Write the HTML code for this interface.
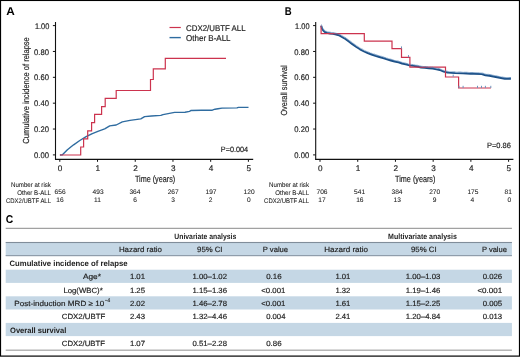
<!DOCTYPE html>
<html><head><meta charset="utf-8"><style>
html,body{margin:0;padding:0;background:#fff;}
svg{display:block;will-change:transform;text-rendering:geometricPrecision;font-family:"Liberation Sans",sans-serif;}
</style></head><body>
<svg width="520" height="362" viewBox="0 0 520 362">
<rect x="0" y="0" width="520" height="362" fill="#fff"/>
<rect x="0.5" y="0.45" width="519" height="355.65" fill="none" stroke="#000" stroke-width="1.2"/>
<line x1="55.5" y1="22.0" x2="55.5" y2="159.7" stroke="#111" stroke-width="1.1"/>
<line x1="55.0" y1="159.4" x2="253.2" y2="159.4" stroke="#111" stroke-width="1.15"/>
<line x1="52.9" y1="25.6" x2="55.5" y2="25.6" stroke="#111" stroke-width="1"/>
<line x1="59.8" y1="159.4" x2="59.8" y2="161.8" stroke="#111" stroke-width="1"/>
<text x="57.82" y="170.90" font-size="8.2" font-weight="normal" fill="#222" stroke="#222" stroke-width="0.17" textLength="4.56" lengthAdjust="spacingAndGlyphs" >0</text>
<line x1="52.9" y1="51.46" x2="55.5" y2="51.46" stroke="#111" stroke-width="1"/>
<line x1="97.52" y1="159.4" x2="97.52" y2="161.8" stroke="#111" stroke-width="1"/>
<text x="95.54" y="170.90" font-size="8.2" font-weight="normal" fill="#222" stroke="#222" stroke-width="0.17" textLength="4.56" lengthAdjust="spacingAndGlyphs" >1</text>
<line x1="52.9" y1="77.32" x2="55.5" y2="77.32" stroke="#111" stroke-width="1"/>
<line x1="135.24" y1="159.4" x2="135.24" y2="161.8" stroke="#111" stroke-width="1"/>
<text x="133.26" y="170.90" font-size="8.2" font-weight="normal" fill="#222" stroke="#222" stroke-width="0.17" textLength="4.56" lengthAdjust="spacingAndGlyphs" >2</text>
<line x1="52.9" y1="103.18" x2="55.5" y2="103.18" stroke="#111" stroke-width="1"/>
<line x1="172.95999999999998" y1="159.4" x2="172.95999999999998" y2="161.8" stroke="#111" stroke-width="1"/>
<text x="170.98" y="170.90" font-size="8.2" font-weight="normal" fill="#222" stroke="#222" stroke-width="0.17" textLength="4.56" lengthAdjust="spacingAndGlyphs" >3</text>
<line x1="52.9" y1="129.04" x2="55.5" y2="129.04" stroke="#111" stroke-width="1"/>
<line x1="210.68" y1="159.4" x2="210.68" y2="161.8" stroke="#111" stroke-width="1"/>
<text x="208.70" y="170.90" font-size="8.2" font-weight="normal" fill="#222" stroke="#222" stroke-width="0.17" textLength="4.56" lengthAdjust="spacingAndGlyphs" >4</text>
<line x1="52.9" y1="154.9" x2="55.5" y2="154.9" stroke="#111" stroke-width="1"/>
<line x1="248.39999999999998" y1="159.4" x2="248.39999999999998" y2="161.8" stroke="#111" stroke-width="1"/>
<text x="246.42" y="170.90" font-size="8.2" font-weight="normal" fill="#222" stroke="#222" stroke-width="0.17" textLength="4.56" lengthAdjust="spacingAndGlyphs" >5</text>
<text x="34.90" y="28.65" font-size="8.1" font-weight="normal" fill="#222" stroke="#222" stroke-width="0.17" textLength="14.41" lengthAdjust="spacingAndGlyphs" >1.00</text>
<text x="34.10" y="54.51" font-size="8.1" font-weight="normal" fill="#222" stroke="#222" stroke-width="0.17" textLength="14.91" lengthAdjust="spacingAndGlyphs" >0.80</text>
<text x="34.10" y="80.37" font-size="8.1" font-weight="normal" fill="#222" stroke="#222" stroke-width="0.17" textLength="14.91" lengthAdjust="spacingAndGlyphs" >0.60</text>
<text x="34.10" y="106.23" font-size="8.1" font-weight="normal" fill="#222" stroke="#222" stroke-width="0.17" textLength="14.91" lengthAdjust="spacingAndGlyphs" >0.40</text>
<text x="34.10" y="132.09" font-size="8.1" font-weight="normal" fill="#222" stroke="#222" stroke-width="0.17" textLength="14.91" lengthAdjust="spacingAndGlyphs" >0.20</text>
<text x="34.10" y="157.95" font-size="8.1" font-weight="normal" fill="#222" stroke="#222" stroke-width="0.17" textLength="14.91" lengthAdjust="spacingAndGlyphs" >0.00</text>
<g transform="translate(28.60,143.70) rotate(-90)">
<text x="0.00" y="0.00" font-size="8.8" font-weight="normal" fill="#222" stroke="#222" stroke-width="0.17" textLength="106.50" lengthAdjust="spacingAndGlyphs" >Cumulative incidence of relapse</text>
</g>
<text x="134.90" y="181.80" font-size="9.1" font-weight="normal" fill="#222" stroke="#222" stroke-width="0.17" textLength="40.30" lengthAdjust="spacingAndGlyphs" >Time (years)</text>
<text x="220.80" y="151.80" font-size="7.7" font-weight="normal" fill="#222" stroke="#222" stroke-width="0.17" textLength="27.39" lengthAdjust="spacingAndGlyphs" >P=0.004</text>
<text x="6.20" y="14.70" font-size="11.3" font-weight="bold" fill="#000" stroke="#000" stroke-width="0" textLength="8.53" lengthAdjust="spacingAndGlyphs" >A</text>
<text x="11.00" y="186.50" font-size="6.7" font-weight="normal" fill="#222" stroke="#222" stroke-width="0.08" textLength="39.88" lengthAdjust="spacingAndGlyphs" >Number at risk</text>
<text x="17.20" y="195.20" font-size="6.7" font-weight="normal" fill="#222" stroke="#222" stroke-width="0.08" textLength="33.79" lengthAdjust="spacingAndGlyphs" >Other B-ALL</text>
<text x="6.00" y="202.50" font-size="6.7" font-weight="normal" fill="#222" stroke="#222" stroke-width="0.08" textLength="44.99" lengthAdjust="spacingAndGlyphs" >CDX2/UBTF ALL</text>
<text x="54.59" y="194.40" font-size="6.6" font-weight="normal" fill="#222" stroke="#222" stroke-width="0.08" textLength="11.01" lengthAdjust="spacingAndGlyphs" >656</text>
<text x="56.34" y="201.70" font-size="6.6" font-weight="normal" fill="#222" stroke="#222" stroke-width="0.08" textLength="7.34" lengthAdjust="spacingAndGlyphs" >16</text>
<text x="92.59" y="194.40" font-size="6.6" font-weight="normal" fill="#222" stroke="#222" stroke-width="0.08" textLength="11.01" lengthAdjust="spacingAndGlyphs" >493</text>
<text x="94.07" y="201.70" font-size="6.6" font-weight="normal" fill="#222" stroke="#222" stroke-width="0.08" textLength="6.85" lengthAdjust="spacingAndGlyphs" >11</text>
<text x="129.39" y="194.40" font-size="6.6" font-weight="normal" fill="#222" stroke="#222" stroke-width="0.08" textLength="11.01" lengthAdjust="spacingAndGlyphs" >364</text>
<text x="133.17" y="201.70" font-size="6.6" font-weight="normal" fill="#222" stroke="#222" stroke-width="0.08" textLength="3.67" lengthAdjust="spacingAndGlyphs" >6</text>
<text x="167.69" y="194.40" font-size="6.6" font-weight="normal" fill="#222" stroke="#222" stroke-width="0.08" textLength="11.01" lengthAdjust="spacingAndGlyphs" >267</text>
<text x="171.17" y="201.70" font-size="6.6" font-weight="normal" fill="#222" stroke="#222" stroke-width="0.08" textLength="3.67" lengthAdjust="spacingAndGlyphs" >3</text>
<text x="205.49" y="194.40" font-size="6.6" font-weight="normal" fill="#222" stroke="#222" stroke-width="0.08" textLength="11.01" lengthAdjust="spacingAndGlyphs" >197</text>
<text x="208.67" y="201.70" font-size="6.6" font-weight="normal" fill="#222" stroke="#222" stroke-width="0.08" textLength="3.67" lengthAdjust="spacingAndGlyphs" >2</text>
<text x="243.59" y="194.40" font-size="6.6" font-weight="normal" fill="#222" stroke="#222" stroke-width="0.08" textLength="11.01" lengthAdjust="spacingAndGlyphs" >120</text>
<text x="247.07" y="201.70" font-size="6.6" font-weight="normal" fill="#222" stroke="#222" stroke-width="0.08" textLength="3.67" lengthAdjust="spacingAndGlyphs" >0</text>
<line x1="315.7" y1="22.0" x2="315.7" y2="159.7" stroke="#111" stroke-width="1.1"/>
<line x1="315.2" y1="159.4" x2="513.4" y2="159.4" stroke="#111" stroke-width="1.15"/>
<line x1="313.09999999999997" y1="25.6" x2="315.7" y2="25.6" stroke="#111" stroke-width="1"/>
<line x1="320.0" y1="159.4" x2="320.0" y2="161.8" stroke="#111" stroke-width="1"/>
<text x="318.02" y="170.90" font-size="8.2" font-weight="normal" fill="#222" stroke="#222" stroke-width="0.17" textLength="4.56" lengthAdjust="spacingAndGlyphs" >0</text>
<line x1="313.09999999999997" y1="51.46" x2="315.7" y2="51.46" stroke="#111" stroke-width="1"/>
<line x1="357.72" y1="159.4" x2="357.72" y2="161.8" stroke="#111" stroke-width="1"/>
<text x="355.74" y="170.90" font-size="8.2" font-weight="normal" fill="#222" stroke="#222" stroke-width="0.17" textLength="4.56" lengthAdjust="spacingAndGlyphs" >1</text>
<line x1="313.09999999999997" y1="77.32" x2="315.7" y2="77.32" stroke="#111" stroke-width="1"/>
<line x1="395.44" y1="159.4" x2="395.44" y2="161.8" stroke="#111" stroke-width="1"/>
<text x="393.46" y="170.90" font-size="8.2" font-weight="normal" fill="#222" stroke="#222" stroke-width="0.17" textLength="4.56" lengthAdjust="spacingAndGlyphs" >2</text>
<line x1="313.09999999999997" y1="103.18" x2="315.7" y2="103.18" stroke="#111" stroke-width="1"/>
<line x1="433.15999999999997" y1="159.4" x2="433.15999999999997" y2="161.8" stroke="#111" stroke-width="1"/>
<text x="431.18" y="170.90" font-size="8.2" font-weight="normal" fill="#222" stroke="#222" stroke-width="0.17" textLength="4.56" lengthAdjust="spacingAndGlyphs" >3</text>
<line x1="313.09999999999997" y1="129.04" x2="315.7" y2="129.04" stroke="#111" stroke-width="1"/>
<line x1="470.88" y1="159.4" x2="470.88" y2="161.8" stroke="#111" stroke-width="1"/>
<text x="468.90" y="170.90" font-size="8.2" font-weight="normal" fill="#222" stroke="#222" stroke-width="0.17" textLength="4.56" lengthAdjust="spacingAndGlyphs" >4</text>
<line x1="313.09999999999997" y1="154.9" x2="315.7" y2="154.9" stroke="#111" stroke-width="1"/>
<line x1="508.6" y1="159.4" x2="508.6" y2="161.8" stroke="#111" stroke-width="1"/>
<text x="506.62" y="170.90" font-size="8.2" font-weight="normal" fill="#222" stroke="#222" stroke-width="0.17" textLength="4.56" lengthAdjust="spacingAndGlyphs" >5</text>
<text x="295.10" y="28.65" font-size="8.1" font-weight="normal" fill="#222" stroke="#222" stroke-width="0.17" textLength="14.41" lengthAdjust="spacingAndGlyphs" >1.00</text>
<text x="294.30" y="54.51" font-size="8.1" font-weight="normal" fill="#222" stroke="#222" stroke-width="0.17" textLength="14.91" lengthAdjust="spacingAndGlyphs" >0.80</text>
<text x="294.30" y="80.37" font-size="8.1" font-weight="normal" fill="#222" stroke="#222" stroke-width="0.17" textLength="14.91" lengthAdjust="spacingAndGlyphs" >0.60</text>
<text x="294.30" y="106.23" font-size="8.1" font-weight="normal" fill="#222" stroke="#222" stroke-width="0.17" textLength="14.91" lengthAdjust="spacingAndGlyphs" >0.40</text>
<text x="294.30" y="132.09" font-size="8.1" font-weight="normal" fill="#222" stroke="#222" stroke-width="0.17" textLength="14.91" lengthAdjust="spacingAndGlyphs" >0.20</text>
<text x="294.30" y="157.95" font-size="8.1" font-weight="normal" fill="#222" stroke="#222" stroke-width="0.17" textLength="14.91" lengthAdjust="spacingAndGlyphs" >0.00</text>
<g transform="translate(287.40,115.60) rotate(-90)">
<text x="0.00" y="0.00" font-size="8.8" font-weight="normal" fill="#222" stroke="#222" stroke-width="0.17" textLength="50.30" lengthAdjust="spacingAndGlyphs" >Overall survival</text>
</g>
<text x="395.10" y="181.80" font-size="9.1" font-weight="normal" fill="#222" stroke="#222" stroke-width="0.17" textLength="40.30" lengthAdjust="spacingAndGlyphs" >Time (years)</text>
<text x="486.90" y="147.70" font-size="7.7" font-weight="normal" fill="#222" stroke="#222" stroke-width="0.17" textLength="23.92" lengthAdjust="spacingAndGlyphs" >P=0.86</text>
<text x="284.80" y="15.20" font-size="11.3" font-weight="bold" fill="#000" stroke="#000" stroke-width="0" textLength="6.92" lengthAdjust="spacingAndGlyphs" >B</text>
<text x="269.10" y="186.50" font-size="6.7" font-weight="normal" fill="#222" stroke="#222" stroke-width="0.08" textLength="39.88" lengthAdjust="spacingAndGlyphs" >Number at risk</text>
<text x="275.30" y="195.20" font-size="6.7" font-weight="normal" fill="#222" stroke="#222" stroke-width="0.08" textLength="33.79" lengthAdjust="spacingAndGlyphs" >Other B-ALL</text>
<text x="264.10" y="202.50" font-size="6.7" font-weight="normal" fill="#222" stroke="#222" stroke-width="0.08" textLength="44.99" lengthAdjust="spacingAndGlyphs" >CDX2/UBTF ALL</text>
<text x="316.49" y="194.40" font-size="6.6" font-weight="normal" fill="#222" stroke="#222" stroke-width="0.08" textLength="11.01" lengthAdjust="spacingAndGlyphs" >706</text>
<text x="318.34" y="201.70" font-size="6.6" font-weight="normal" fill="#222" stroke="#222" stroke-width="0.08" textLength="7.34" lengthAdjust="spacingAndGlyphs" >17</text>
<text x="354.09" y="194.40" font-size="6.6" font-weight="normal" fill="#222" stroke="#222" stroke-width="0.08" textLength="11.01" lengthAdjust="spacingAndGlyphs" >541</text>
<text x="356.14" y="201.70" font-size="6.6" font-weight="normal" fill="#222" stroke="#222" stroke-width="0.08" textLength="7.34" lengthAdjust="spacingAndGlyphs" >16</text>
<text x="391.49" y="194.40" font-size="6.6" font-weight="normal" fill="#222" stroke="#222" stroke-width="0.08" textLength="11.01" lengthAdjust="spacingAndGlyphs" >384</text>
<text x="393.54" y="201.70" font-size="6.6" font-weight="normal" fill="#222" stroke="#222" stroke-width="0.08" textLength="7.34" lengthAdjust="spacingAndGlyphs" >13</text>
<text x="429.19" y="194.40" font-size="6.6" font-weight="normal" fill="#222" stroke="#222" stroke-width="0.08" textLength="11.01" lengthAdjust="spacingAndGlyphs" >270</text>
<text x="432.67" y="201.70" font-size="6.6" font-weight="normal" fill="#222" stroke="#222" stroke-width="0.08" textLength="3.67" lengthAdjust="spacingAndGlyphs" >9</text>
<text x="467.39" y="194.40" font-size="6.6" font-weight="normal" fill="#222" stroke="#222" stroke-width="0.08" textLength="11.01" lengthAdjust="spacingAndGlyphs" >175</text>
<text x="470.47" y="201.70" font-size="6.6" font-weight="normal" fill="#222" stroke="#222" stroke-width="0.08" textLength="3.67" lengthAdjust="spacingAndGlyphs" >4</text>
<text x="504.54" y="194.40" font-size="6.6" font-weight="normal" fill="#222" stroke="#222" stroke-width="0.08" textLength="7.34" lengthAdjust="spacingAndGlyphs" >81</text>
<text x="507.47" y="201.70" font-size="6.6" font-weight="normal" fill="#222" stroke="#222" stroke-width="0.08" textLength="3.67" lengthAdjust="spacingAndGlyphs" >0</text>
<line x1="169.5" y1="27.5" x2="180.8" y2="27.5" stroke="#cc334e" stroke-width="1.2"/>
<line x1="169.5" y1="37.6" x2="180.8" y2="37.6" stroke="#2f6ca0" stroke-width="1.4"/>
<text x="186.00" y="30.60" font-size="8.4" font-weight="normal" fill="#222" stroke="#222" stroke-width="0.17" textLength="59.59" lengthAdjust="spacingAndGlyphs" >CDX2/UBTF ALL</text>
<text x="186.00" y="41.20" font-size="8.5" font-weight="normal" fill="#222" stroke="#222" stroke-width="0.17" textLength="44.59" lengthAdjust="spacingAndGlyphs" >Other B-ALL</text>
<polyline points="60,155 62.4,154.8 67.4,149.8 73.6,144.8 79.8,140.5 86.1,136.7 92.3,133.6 98.5,131.1 104.7,128.9 109.7,125.9 116.2,125 122.3,121.9 130,120.4 140.8,118.9 144.6,116.6 151.5,116.0 160.8,115.4 163,114.6 174.6,112.4 185,112.2 189.6,111.4 190.8,110.5 201.5,110.2 212.3,110.2 215,109.2 218,108.7 222,108.1 236.9,107.9 238.5,107.4 248.5,107.4" fill="none" stroke="#2f6ca0" stroke-width="1.4" stroke-linejoin="round"/>
<path d="M59.8 155 H80.7 V147 H83.6 V138.9 H87.7 V130.8 H91.6 V122.6 H94.6 V114.4 H101.6 V106.6 H105.2 V98.4 H116.2 V90.5 H150.5 V79.5 H153.3 V68.9 H165.3 V58.3 H226" fill="none" stroke="#cc334e" stroke-width="1.2"/>
<polyline points="321.2,25.80 321.9,28.20 323.1,30.40 324.6,31.90 326.9,32.90 330,33.50 333.1,33.80 336.2,34.50 339.2,35.40 342.3,37.20 345.4,39.00 348.5,41.30 352,43.90 356,46.70 360,49.30 364,51.50 367.7,53.10 371.5,54.50 375.4,55.80 379.3,57.00 383.1,58.10 387,59.30 390.8,60.50 394.6,61.50 398.5,62.40 402,63.50 405.7,64.40 409.5,65.40 413.4,65.90 417.2,66.50 421.1,67.50 424.9,67.80 428.8,68.20 432.6,68.60 436.5,69.40 439.8,70.00 443.7,71.70 447.5,72.60 455.2,73.10 462.9,73.40 470.6,73.70 474,73.80 481.7,74.10 485.5,75.30 489.4,75.70 493.2,76.50 497.1,77.30 500.9,78.00 504.8,78.70 510.9,78.80" fill="none" stroke="#1b4f86" stroke-width="1.9" stroke-linejoin="round"/>
<path d="M321.1 25.8 V33.6 H364.3 V41.1 H392 V48.7 H401.5 V57.4 H409.9 V67.2 H445.5 V77 H458.6 V88.0 H490.9" fill="none" stroke="#cc334e" stroke-width="1.2"/>
<polyline points="321.2,25.80 321.9,28.20 323.1,30.40 324.6,31.90 326.9,32.90 330,33.50 333.1,33.80 336.2,34.50 339.2,35.40 342.3,37.20 345.4,39.00 348.5,41.30 352,43.90 356,46.70 360,49.30 364,51.50 367.7,53.10 371.5,54.50 375.4,55.80 379.3,57.00 383.1,58.10 387,59.30 390.8,60.50 394.6,61.50 398.5,62.40 402,63.50 405.7,64.40 409.5,65.40 413.4,65.90 417.2,66.50 421.1,67.50 424.9,67.80 428.8,68.20 432.6,68.60 436.5,69.40 439.8,70.00 443.7,71.70 447.5,72.60 455.2,73.10 462.9,73.40 470.6,73.70 474,73.80 481.7,74.10 485.5,75.30 489.4,75.70 493.2,76.50 497.1,77.30 500.9,78.00 504.8,78.70 510.9,78.80" fill="none" stroke="#4a7db3" stroke-width="1.3" stroke-dasharray="0.6 0.6" stroke-linejoin="round" transform="translate(0,-1.1)"/>
<rect x="401.00" y="46.40" width="1" height="2.2" fill="#6f93bb"/>
<rect x="408.00" y="55.10" width="1" height="2.2" fill="#6f93bb"/>
<rect x="452.70" y="74.60" width="1" height="2.2" fill="#6f93bb"/>
<rect x="458.50" y="85.80" width="1" height="2.2" fill="#6f93bb"/>
<rect x="462.60" y="85.80" width="1" height="2.2" fill="#6f93bb"/>
<rect x="477.00" y="85.80" width="1" height="2.2" fill="#6f93bb"/>
<rect x="481.00" y="85.80" width="1" height="2.2" fill="#6f93bb"/>
<rect x="484.90" y="85.80" width="1" height="2.2" fill="#6f93bb"/>
<rect x="490.30" y="85.80" width="1" height="2.2" fill="#6f93bb"/>
<text x="5.70" y="222.80" font-size="11.3" font-weight="bold" fill="#000" stroke="#000" stroke-width="0" textLength="7.52" lengthAdjust="spacingAndGlyphs" >C</text>
<rect x="5.7" y="227.8" width="506.2" height="1" fill="#8a8a8a"/>
<rect x="5.7" y="242.2" width="506.2" height="13.80" fill="#c5d7e5"/>
<rect x="5.7" y="269.7" width="506.2" height="13.20" fill="#c5d7e5"/>
<rect x="5.7" y="296.3" width="506.2" height="13.20" fill="#c5d7e5"/>
<rect x="5.7" y="322.9" width="506.2" height="13.20" fill="#c5d7e5"/>
<rect x="5.7" y="241.95" width="506.2" height="1.1" fill="#808d9a"/>
<rect x="5.7" y="255.1" width="506.2" height="1.1" fill="#8997a5"/>
<rect x="5.7" y="349.55" width="506.2" height="1.3" fill="#aaa"/>
<text x="174.30" y="238.60" font-size="7.8" font-weight="bold" fill="#222" stroke="#222" stroke-width="0" textLength="61.90" lengthAdjust="spacingAndGlyphs" >Univariate analysis</text>
<text x="388.10" y="238.60" font-size="7.8" font-weight="bold" fill="#222" stroke="#222" stroke-width="0" textLength="68.72" lengthAdjust="spacingAndGlyphs" >Multivariate analysis</text>
<text x="118.90" y="251.80" font-size="7.6" font-weight="normal" fill="#222" stroke="#222" stroke-width="0.17" textLength="43.12" lengthAdjust="spacingAndGlyphs" >Hazard ratio</text>
<text x="197.10" y="251.80" font-size="7.6" font-weight="normal" fill="#222" stroke="#222" stroke-width="0.17" textLength="25.39" lengthAdjust="spacingAndGlyphs" >95% CI</text>
<text x="262.80" y="251.80" font-size="7.6" font-weight="normal" fill="#222" stroke="#222" stroke-width="0.17" textLength="25.28" lengthAdjust="spacingAndGlyphs" >P value</text>
<text x="324.20" y="251.80" font-size="7.6" font-weight="normal" fill="#222" stroke="#222" stroke-width="0.17" textLength="43.92" lengthAdjust="spacingAndGlyphs" >Hazard ratio</text>
<text x="411.00" y="251.80" font-size="7.6" font-weight="normal" fill="#222" stroke="#222" stroke-width="0.17" textLength="25.59" lengthAdjust="spacingAndGlyphs" >95% CI</text>
<text x="481.90" y="251.80" font-size="7.6" font-weight="normal" fill="#222" stroke="#222" stroke-width="0.17" textLength="25.08" lengthAdjust="spacingAndGlyphs" >P value</text>
<text x="9.50" y="265.80" font-size="7.9" font-weight="bold" fill="#222" stroke="#222" stroke-width="0" textLength="117.98" lengthAdjust="spacingAndGlyphs" >Cumulative incidence of relapse</text>
<text x="10.00" y="332.90" font-size="7.9" font-weight="bold" fill="#222" stroke="#222" stroke-width="0" textLength="56.29" lengthAdjust="spacingAndGlyphs" >Overall survival</text>
<text x="82.90" y="279.30" font-size="7.5" font-weight="normal" fill="#222" stroke="#222" stroke-width="0.17" textLength="17.99" lengthAdjust="spacingAndGlyphs" >Age*</text>
<text x="129.90" y="279.30" font-size="7.5" font-weight="normal" fill="#222" stroke="#222" stroke-width="0.17" textLength="15.11" lengthAdjust="spacingAndGlyphs" >1.01</text>
<text x="192.50" y="279.30" font-size="7.5" font-weight="normal" fill="#222" stroke="#222" stroke-width="0.17" textLength="34.49" lengthAdjust="spacingAndGlyphs" >1.00–1.02</text>
<text x="266.20" y="279.30" font-size="7.5" font-weight="normal" fill="#222" stroke="#222" stroke-width="0.17" textLength="15.41" lengthAdjust="spacingAndGlyphs" >0.16</text>
<text x="335.40" y="279.30" font-size="7.5" font-weight="normal" fill="#222" stroke="#222" stroke-width="0.17" textLength="15.01" lengthAdjust="spacingAndGlyphs" >1.01</text>
<text x="405.80" y="279.30" font-size="7.5" font-weight="normal" fill="#222" stroke="#222" stroke-width="0.17" textLength="34.59" lengthAdjust="spacingAndGlyphs" >1.00–1.03</text>
<text x="482.70" y="279.30" font-size="7.5" font-weight="normal" fill="#222" stroke="#222" stroke-width="0.17" textLength="19.38" lengthAdjust="spacingAndGlyphs" >0.026</text>
<text x="63.40" y="292.60" font-size="7.5" font-weight="normal" fill="#222" stroke="#222" stroke-width="0.17" textLength="39.31" lengthAdjust="spacingAndGlyphs" >Log(WBC)*</text>
<text x="129.90" y="292.60" font-size="7.5" font-weight="normal" fill="#222" stroke="#222" stroke-width="0.17" textLength="15.11" lengthAdjust="spacingAndGlyphs" >1.25</text>
<text x="192.50" y="292.60" font-size="7.5" font-weight="normal" fill="#222" stroke="#222" stroke-width="0.17" textLength="34.49" lengthAdjust="spacingAndGlyphs" >1.15–1.36</text>
<text x="261.30" y="292.60" font-size="7.5" font-weight="normal" fill="#222" stroke="#222" stroke-width="0.17" textLength="24.01" lengthAdjust="spacingAndGlyphs" >&lt;0.001</text>
<text x="335.40" y="292.60" font-size="7.5" font-weight="normal" fill="#222" stroke="#222" stroke-width="0.17" textLength="15.01" lengthAdjust="spacingAndGlyphs" >1.32</text>
<text x="405.80" y="292.60" font-size="7.5" font-weight="normal" fill="#222" stroke="#222" stroke-width="0.17" textLength="34.59" lengthAdjust="spacingAndGlyphs" >1.19–1.46</text>
<text x="477.40" y="292.60" font-size="7.5" font-weight="normal" fill="#222" stroke="#222" stroke-width="0.17" textLength="24.71" lengthAdjust="spacingAndGlyphs" >&lt;0.001</text>
<text x="14.30" y="305.90" font-size="7.5" font-weight="normal" fill="#222" stroke="#222" stroke-width="0.17" textLength="89.89" lengthAdjust="spacingAndGlyphs" >Post-induction MRD ≥ 10</text>
<text x="104.70" y="302.00" font-size="5.6" font-weight="normal" fill="#222" stroke="#222" stroke-width="0.08" textLength="5.50" lengthAdjust="spacingAndGlyphs" >−4</text>
<text x="129.90" y="305.90" font-size="7.5" font-weight="normal" fill="#222" stroke="#222" stroke-width="0.17" textLength="15.11" lengthAdjust="spacingAndGlyphs" >2.02</text>
<text x="192.50" y="305.90" font-size="7.5" font-weight="normal" fill="#222" stroke="#222" stroke-width="0.17" textLength="34.49" lengthAdjust="spacingAndGlyphs" >1.46–2.78</text>
<text x="261.30" y="305.90" font-size="7.5" font-weight="normal" fill="#222" stroke="#222" stroke-width="0.17" textLength="24.01" lengthAdjust="spacingAndGlyphs" >&lt;0.001</text>
<text x="335.40" y="305.90" font-size="7.5" font-weight="normal" fill="#222" stroke="#222" stroke-width="0.17" textLength="15.01" lengthAdjust="spacingAndGlyphs" >1.61</text>
<text x="405.80" y="305.90" font-size="7.5" font-weight="normal" fill="#222" stroke="#222" stroke-width="0.17" textLength="34.59" lengthAdjust="spacingAndGlyphs" >1.15–2.25</text>
<text x="482.70" y="305.90" font-size="7.5" font-weight="normal" fill="#222" stroke="#222" stroke-width="0.17" textLength="19.38" lengthAdjust="spacingAndGlyphs" >0.005</text>
<text x="61.80" y="319.20" font-size="7.5" font-weight="normal" fill="#222" stroke="#222" stroke-width="0.17" textLength="43.51" lengthAdjust="spacingAndGlyphs" >CDX2/UBTF</text>
<text x="129.90" y="319.20" font-size="7.5" font-weight="normal" fill="#222" stroke="#222" stroke-width="0.17" textLength="15.11" lengthAdjust="spacingAndGlyphs" >2.43</text>
<text x="192.50" y="319.20" font-size="7.5" font-weight="normal" fill="#222" stroke="#222" stroke-width="0.17" textLength="34.49" lengthAdjust="spacingAndGlyphs" >1.32–4.46</text>
<text x="266.20" y="319.20" font-size="7.5" font-weight="normal" fill="#222" stroke="#222" stroke-width="0.17" textLength="19.23" lengthAdjust="spacingAndGlyphs" >0.004</text>
<text x="335.40" y="319.20" font-size="7.5" font-weight="normal" fill="#222" stroke="#222" stroke-width="0.17" textLength="15.01" lengthAdjust="spacingAndGlyphs" >2.41</text>
<text x="405.80" y="319.20" font-size="7.5" font-weight="normal" fill="#222" stroke="#222" stroke-width="0.17" textLength="34.59" lengthAdjust="spacingAndGlyphs" >1.20–4.84</text>
<text x="482.70" y="319.20" font-size="7.5" font-weight="normal" fill="#222" stroke="#222" stroke-width="0.17" textLength="19.38" lengthAdjust="spacingAndGlyphs" >0.013</text>
<text x="61.80" y="345.90" font-size="7.5" font-weight="normal" fill="#222" stroke="#222" stroke-width="0.17" textLength="43.21" lengthAdjust="spacingAndGlyphs" >CDX2/UBTF</text>
<text x="129.90" y="345.90" font-size="7.5" font-weight="normal" fill="#222" stroke="#222" stroke-width="0.17" textLength="15.11" lengthAdjust="spacingAndGlyphs" >1.07</text>
<text x="192.50" y="345.90" font-size="7.5" font-weight="normal" fill="#222" stroke="#222" stroke-width="0.17" textLength="34.49" lengthAdjust="spacingAndGlyphs" >0.51–2.28</text>
<text x="266.20" y="345.90" font-size="7.5" font-weight="normal" fill="#222" stroke="#222" stroke-width="0.17" textLength="15.41" lengthAdjust="spacingAndGlyphs" >0.86</text>
</svg>
</body></html>
